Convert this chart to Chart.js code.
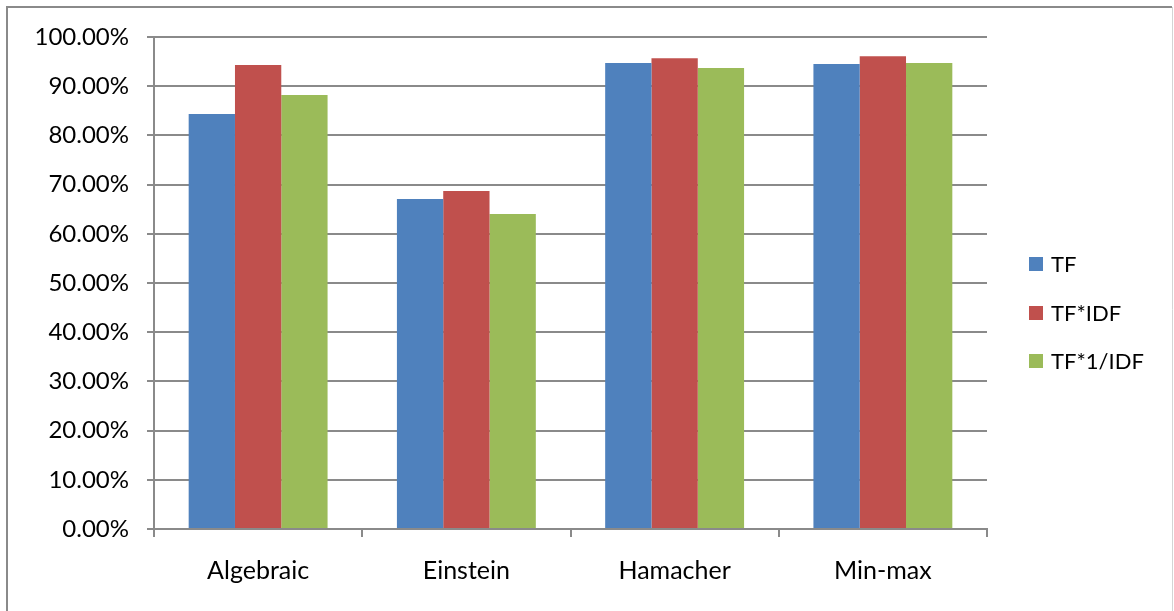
<!DOCTYPE html>
<html>
<head>
<meta charset="utf-8">
<script src="https://cdn.jsdelivr.net/npm/chart.js@4/dist/chart.umd.min.js"></script>
<style>
  html, body { margin: 0; padding: 0; background: #ffffff; }
  #wrap { width: 1174px; height: 611px; position: relative; }
  canvas { display: block; }
</style>
</head>
<body>
<div id="wrap"><canvas id="chart" width="1174" height="611"></canvas></div>
<script>
// Categories (membership aggregation operators) and the three weighting schemes
const categories = ['Algebraic', 'Einstein', 'Hamacher', 'Min-max'];
const seriesNames = ['TF', 'TF*IDF', 'TF*1/IDF'];

// Accuracy in percent for each scheme
const tfValues       = [84.35, 67.07, 94.70, 94.50];
const tfIdfValues    = [94.30, 68.70, 95.70, 96.10];
const tfInvIdfValues = [88.20, 64.00, 93.70, 94.70];

const seriesColors = ['#4F81BD', '#C0504D', '#9BBB59'];

// Value axis range and step
const yMin = 0;
const yMax = 100;
const yStep = 10;

const FONT = 'Lato, "Open Sans", "DejaVu Sans", sans-serif';
const GRID = '#8a8a8a';

// Outer frame around the whole chart
const framePlugin = {
  id: 'frame',
  beforeDraw(chart) {
    const ctx = chart.ctx;
    ctx.save();
    ctx.fillStyle = '#ffffff';
    ctx.fillRect(0, 0, chart.width, chart.height);
    ctx.strokeStyle = '#8a8a8a';
    ctx.lineWidth = 2;
    ctx.beginPath();
    ctx.moveTo(7, chart.height + 2);
    ctx.lineTo(7, 7);
    ctx.lineTo(1172, 7);
    ctx.stroke();
    ctx.strokeStyle = '#d4d4d4';
    ctx.lineWidth = 1;
    ctx.beginPath();
    ctx.moveTo(1172.5, 7);
    ctx.lineTo(1172.5, chart.height + 2);
    ctx.stroke();
    ctx.restore();
  }
};

// Legend on the right, drawn from the dataset labels and colours
const sideLegendPlugin = {
  id: 'sideLegend',
  afterDraw(chart) {
    const ctx = chart.ctx;
    const boxX = 1029, textX = 1051, box = 14;
    const firstY = 264, stepY = 48.5;
    ctx.save();
    ctx.font = '22px ' + FONT;
    ctx.textBaseline = 'middle';
    ctx.textAlign = 'left';
    chart.data.datasets.forEach((ds, i) => {
      const cy = firstY + i * stepY;
      ctx.fillStyle = ds.backgroundColor;
      ctx.fillRect(boxX, Math.round(cy - box / 2), box, box);
      ctx.fillStyle = '#000000';
      ctx.fillText(ds.label, textX, cy + 1);
    });
    ctx.restore();
  }
};

const datasets = [tfValues, tfIdfValues, tfInvIdfValues].map((vals, i) => ({
  label: seriesNames[i],
  data: vals,
  backgroundColor: seriesColors[i],
  borderWidth: 0,
  categoryPercentage: 0.667,
  barPercentage: 1.0
}));

new Chart(document.getElementById('chart'), {
  type: 'bar',
  data: { labels: categories, datasets },
  options: {
    responsive: false,
    animation: false,
    devicePixelRatio: 1,
    layout: { padding: { left: 0, top: 37, right: 187, bottom: 0 } },
    plugins: {
      legend: { display: false },
      tooltip: { enabled: false }
    },
    scales: {
      x: {
        offset: true,
        grid: {
          offset: true,
          drawOnChartArea: false,
          drawTicks: true,
          tickLength: 8,
          color: GRID,
          lineWidth: 2
        },
        border: { display: true, color: GRID, width: 2 },
        ticks: {
          color: '#000000',
          font: { family: FONT, size: 25 },
          padding: 19,
          maxRotation: 0
        },
        afterFit(scale) { scale.height = 82; }
      },
      y: {
        min: yMin,
        max: yMax,
        grid: {
          color: GRID,
          lineWidth: 2,
          drawTicks: true,
          tickLength: 7
        },
        border: { display: true, color: GRID, width: 2 },
        ticks: {
          stepSize: yStep,
          color: '#000000',
          font: { family: FONT, size: 24 },
          padding: 18,
          callback: (v) => v.toFixed(2) + '%'
        },
        afterFit(scale) { scale.width = 154; }
      }
    }
  },
  plugins: [framePlugin, sideLegendPlugin]
});
</script>
</body>
</html>
